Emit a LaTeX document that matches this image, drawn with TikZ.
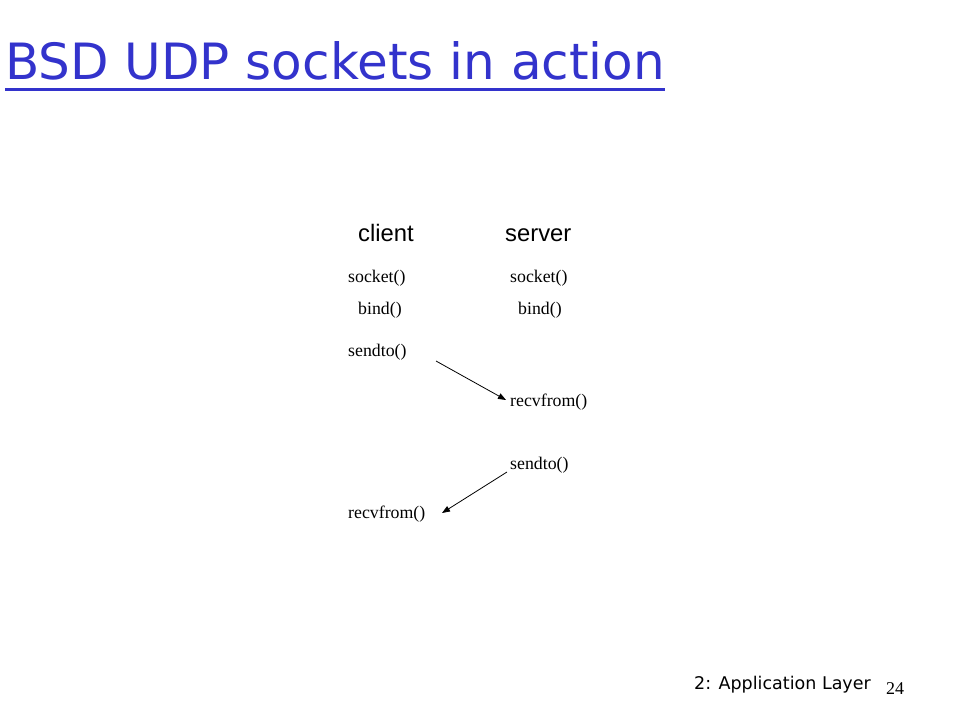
\documentclass[tikz,border=0pt]{standalone}
\usepackage{fontspec}
\setmainfont{Liberation Serif}
\newfontfamily\arialf{Liberation Sans}
\newfontfamily\titlef{DejaVu Sans}
\usetikzlibrary{arrows.meta}
\definecolor{titleblue}{RGB}{51,51,204}
\begin{document}
\begin{tikzpicture}[x=1pt,y=-1pt,
  fn/.style={anchor=west,inner sep=0pt,font=\fontsize{17.8}{20}\selectfont},
  role/.style={anchor=west,inner sep=0pt,font=\arialf\fontsize{23.8}{26}\selectfont},
  msg/.style={-{Triangle[length=8pt,width=6pt]},line width=0.8pt}]
\useasboundingbox[fill=white] (0,0) rectangle (960,720);
\node[anchor=west,inner sep=0pt,text=titleblue,font=\titlef\fontsize{50}{56}\selectfont] (title) at (5,61) {BSD UDP sockets in action};
\draw[titleblue,line width=3pt] (5,89) -- (665,89);
\node[role] (client) at (358,233) {client};
\node[role] (server) at (505,235) {server};
\node[fn] (csock) at (348,278) {socket()};
\node[fn] (ssock) at (510,278) {socket()};
\node[fn] (cbind) at (358,310) {bind()};
\node[fn] (sbind) at (518,310) {bind()};
\node[fn] (csend) at (348,352) {sendto()};
\node[fn] (srecv) at (510,402) {recvfrom()};
\node[fn] (ssend) at (510,465) {sendto()};
\node[fn] (crecv) at (348,514) {recvfrom()};
\coordinate (a1s) at (436,361);
\coordinate (a1e) at (506,400);
\coordinate (a2s) at (507,472);
\coordinate (a2e) at (442,513);
\draw[msg] (a1s) -- (a1e);
\draw[msg] (a2s) -- (a2e);
\node[anchor=west,inner sep=0pt,font=\titlef\fontsize{17.5}{19}\selectfont] (footer) at (694,685) {2: Application Layer};
\node[anchor=west,inner sep=0pt,font=\fontsize{18}{20}\selectfont] (page) at (886,689) {24};
\end{tikzpicture}
\end{document}
